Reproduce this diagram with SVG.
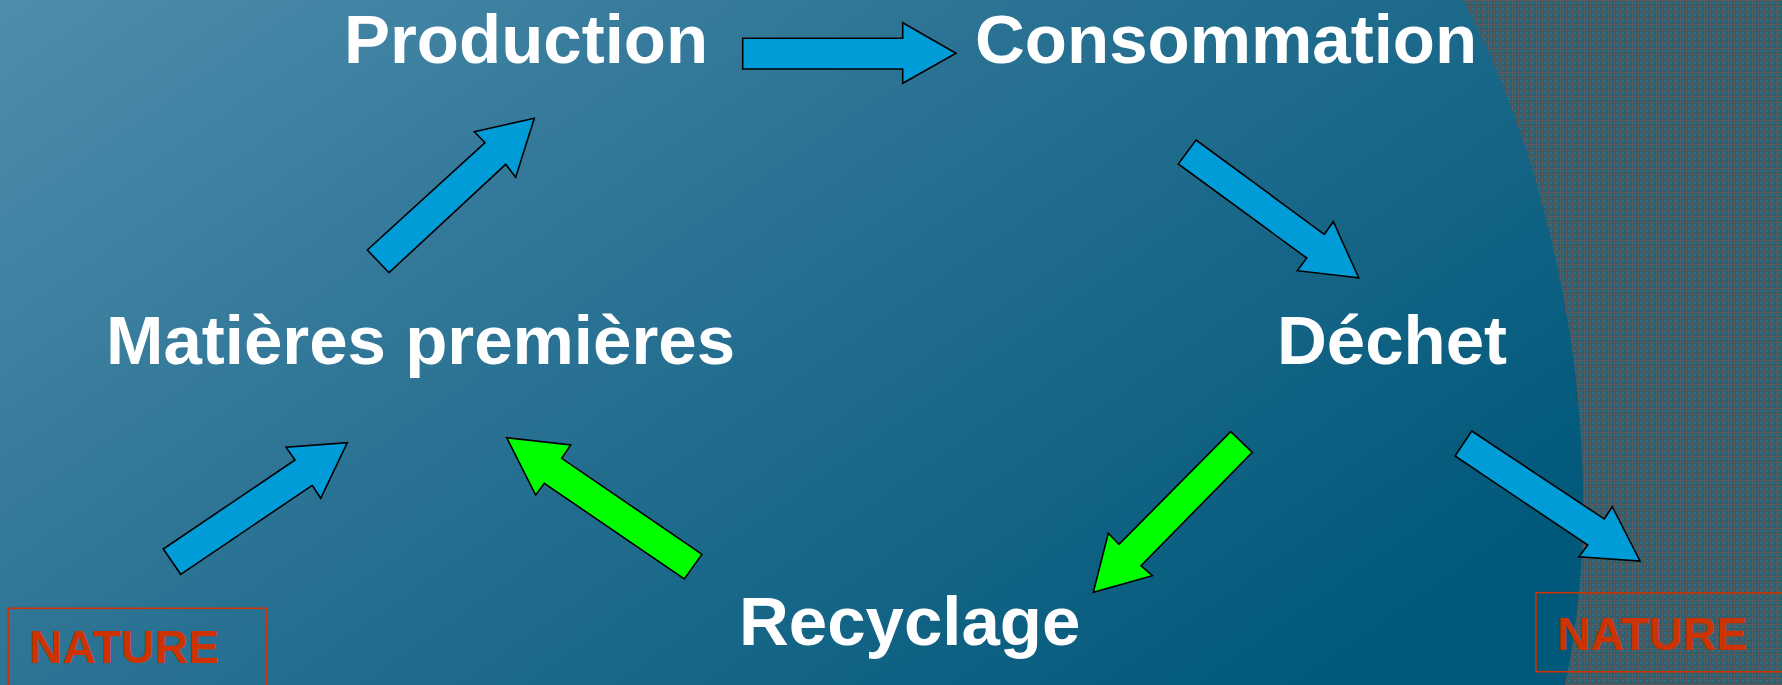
<svg xmlns="http://www.w3.org/2000/svg" width="1782" height="685" viewBox="0 0 1782 685">
<defs>
<linearGradient id="bg" x1="0" y1="0" x2="1" y2="0.55">
<stop offset="0" stop-color="#4f8dac"/>
<stop offset="0.45" stop-color="#2a7293"/>
<stop offset="1" stop-color="#00587a"/>
</linearGradient>
<pattern id="grid" width="6" height="6" patternUnits="userSpaceOnUse">
<rect width="6" height="6" fill="#2b5f70"/>
<circle cx="3" cy="3" r="1.3" fill="#2a7088"/>
<path d="M0 0.5H6M0.5 0V6" stroke="#5c5a5a" stroke-width="1"/>
</pattern>
<style>
.lbl{font-family:"Liberation Sans",Arial,sans-serif;font-weight:bold;font-size:69px;fill:#ffffff}
.nat{font-family:"Liberation Sans",Arial,sans-serif;font-weight:bold;font-size:46.5px;fill:#cc3300}
.box{fill:none;stroke:#cc3300;stroke-width:1.6}
.ab{fill:#009cd8;stroke:#000;stroke-width:1.6;stroke-linejoin:miter}
.ag{fill:#00ff00;stroke:#000;stroke-width:1.6;stroke-linejoin:miter}
</style>
</defs>
<rect width="1782" height="685" fill="url(#bg)"/>
<path d="M1463,0 C1555,170 1615,450 1565,685 L1782,685 L1782,0 Z" fill="url(#grid)"/>

<g id="connectors">
<polygon class="ab" points="742.7,38.3 902.7,38.3 902.7,22.7 956,53.3 902.7,83.3 902.7,69 742.7,69"/>
<polygon class="ab" points="367.3,250 485,142.7 474.3,131.7 534.3,118.3 515.7,177.3 505.7,164.3 389,272.7"/>
<polygon class="ab" points="1196,140 1324.3,234.3 1333.3,221.7 1358.7,277.7 1297.3,270.7 1306.7,258 1178.3,164"/>
<polygon class="ab" points="163.3,549 295,460 286,447.3 347.3,442.7 320.7,498.3 312.3,485.3 180.7,574.3"/>
<polygon class="ag" points="702,554.3 561.7,458.3 570.7,445 506.7,437.7 535.7,495 544.3,483.3 684.3,579"/>
<polygon class="ag" points="1230.7,431.7 1252.3,452.3 1141,565.7 1152.3,575.7 1093.3,592.3 1108.3,533.3 1119,544.3"/>
<polygon class="ab" points="1471.7,431 1604.3,519 1612.3,506.7 1640,561 1579,556.7 1587.7,545 1455,456"/>
</g>

<g id="production"><text class="lbl" x="344" y="63">Production</text></g>
<g id="consommation"><text class="lbl" x="975" y="63">Consommation</text></g>
<g id="matieres"><text class="lbl" x="106" y="364">Matières premières</text></g>
<g id="dechet"><text class="lbl" x="1277" y="364">Déchet</text></g>
<g id="recyclage"><text class="lbl" x="739" y="645">Recyclage</text></g>
<g id="nature-left">
<rect class="box" x="8.3" y="608.3" width="258.4" height="100"/>
<text class="nat" x="29" y="663">NATURE</text>
</g>
<g id="nature-right">
<rect class="box" x="1536" y="592.7" width="260" height="79"/>
<text class="nat" x="1557" y="650">NATURE</text>
</g>
</svg>
